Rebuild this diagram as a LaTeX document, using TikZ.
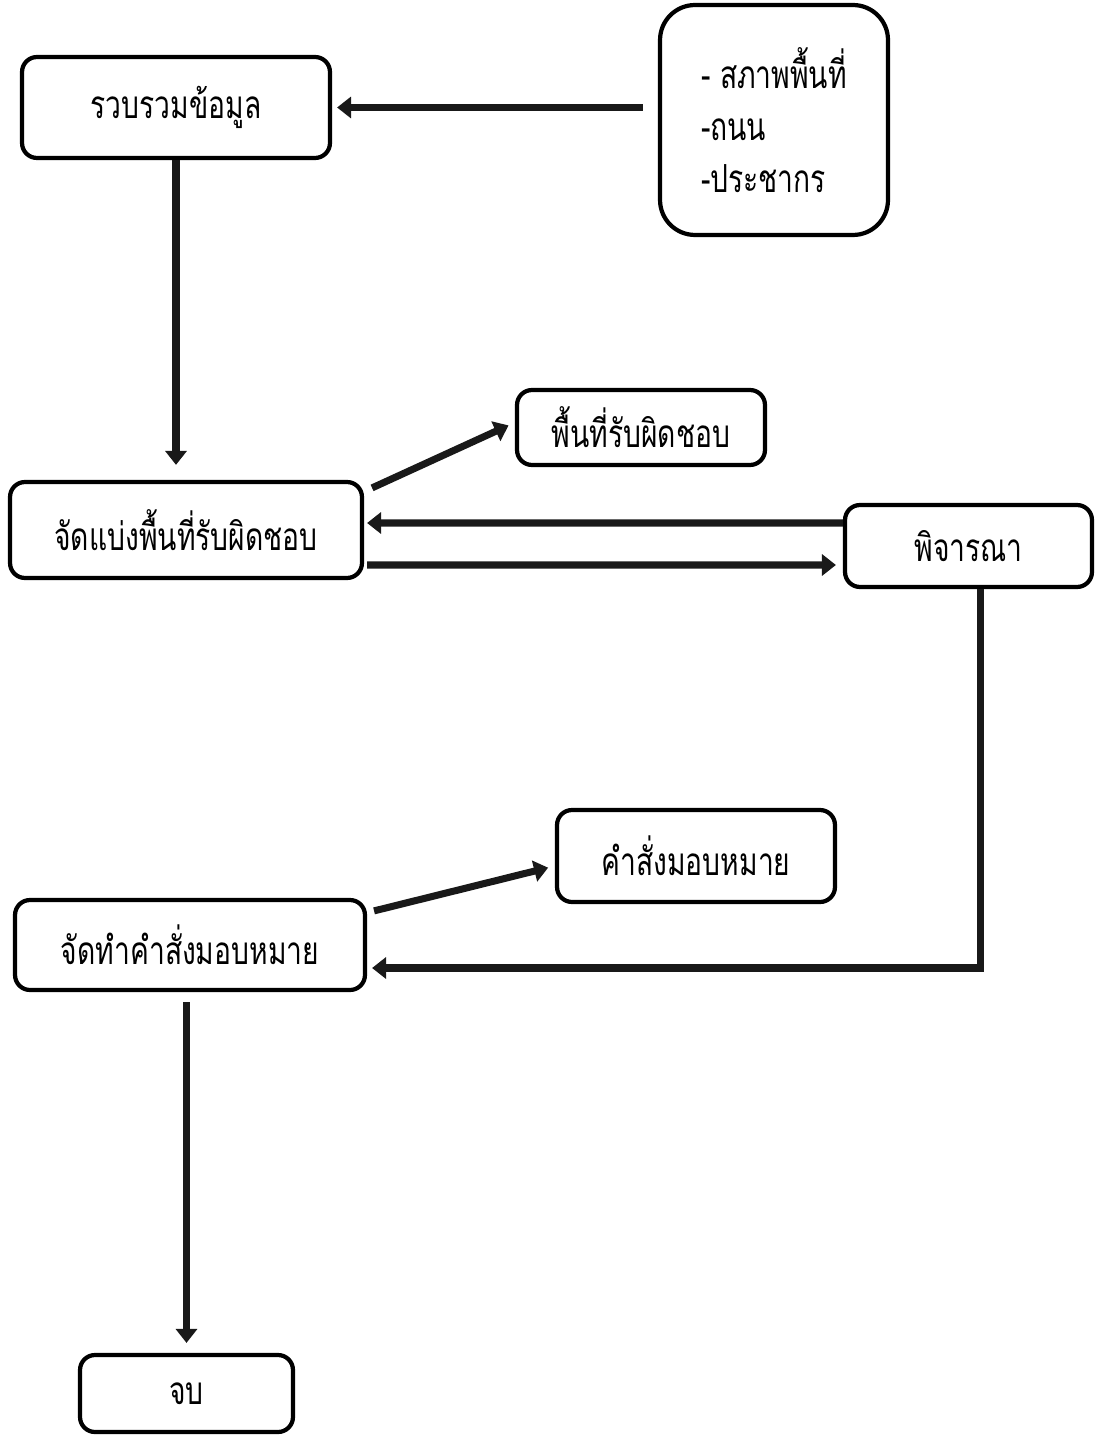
\documentclass[tikz,border=0pt]{standalone}
\usepackage{fontspec}
\newfontfamily\thaifont[Script=Thai,FakeStretch=0.73]{Loma}
\usetikzlibrary{arrows.meta}
\tikzstyle{stepbox}=[shape=rectangle,
                draw=black,
                rounded corners=0.3cm,
                line width=2.4pt,
                inner sep=0pt,
                font=\thaifont\fontsize{22}{29.5}\selectfont]
\tikzstyle{listbox}=[stepbox,
                rounded corners=0.7cm,
                align=left]
\tikzstyle{flow}=[line width=4pt,
                color=black!90]

\begin{document}
\begin{tikzpicture}[x=0.02cm,y=-0.02cm,>={Triangle[length=0.28cm,width=0.42cm]}]
\useasboundingbox (0,0) rectangle (1096,1435);

% data collection and its sources
\node[stepbox,minimum width=6.16cm,minimum height=2.02cm] (collect) at (176,107.5) {รวบรวมข้อมูล};
\node[listbox,minimum width=4.56cm,minimum height=4.6cm] (sources) at (774,120) {- สภาพพื้นที่\\-ถนน\\-ประชากร};

% dividing the areas
\node[stepbox,minimum width=7.04cm,minimum height=1.92cm] (split) at (186,530) {จัดแบ่งพื้นที่รับผิดชอบ};
\node[stepbox,minimum width=4.96cm,minimum height=1.5cm] (area) at (641,427.5) {พื้นที่รับผิดชอบ};
\node[stepbox,minimum width=4.94cm,minimum height=1.64cm] (consider) at (968.5,546) {พิจารณา};

% orders
\node[stepbox,minimum width=7.0cm,minimum height=1.8cm] (order) at (190,945) {จัดทำคำสั่งมอบหมาย};
\node[stepbox,minimum width=5.56cm,minimum height=1.84cm] (command) at (696,856) {คำสั่งมอบหมาย};
\node[stepbox,minimum width=4.26cm,minimum height=1.54cm] (finish) at (186.5,1393.5) {จบ};

% arrows between the steps
\path[flow,->] (sources.west |- collect.east) edge[shorten <=0.3cm,shorten >=0.1cm] (collect.east)
          (collect.south) edge[shorten >=0.3cm] (collect.south |- split.north)
          ([xshift=0.16cm,yshift=-0.16cm]split.north east) edge[shorten >=0.14cm] ([yshift=0.1cm]area.west)
          ([yshift=0.46cm]consider.west) edge[shorten >=0.06cm] ([yshift=0.14cm]split.east)
          ([yshift=-0.7cm]split.east) edge[shorten <=0.06cm,shorten >=0.14cm] ([yshift=-0.38cm]consider.west)
          ([xshift=0.14cm,yshift=-0.26cm]order.north east) edge[shorten >=0.14cm] ([yshift=-0.2cm]command.west)
          (order.south -| finish.north) edge[shorten <=0.2cm,shorten >=0.2cm] (finish.north);
\draw[flow,->,shorten >=0.1cm] ([xshift=0.23cm]consider.south) |- ([yshift=-0.46cm]order.east);

\end{tikzpicture}
\end{document}
